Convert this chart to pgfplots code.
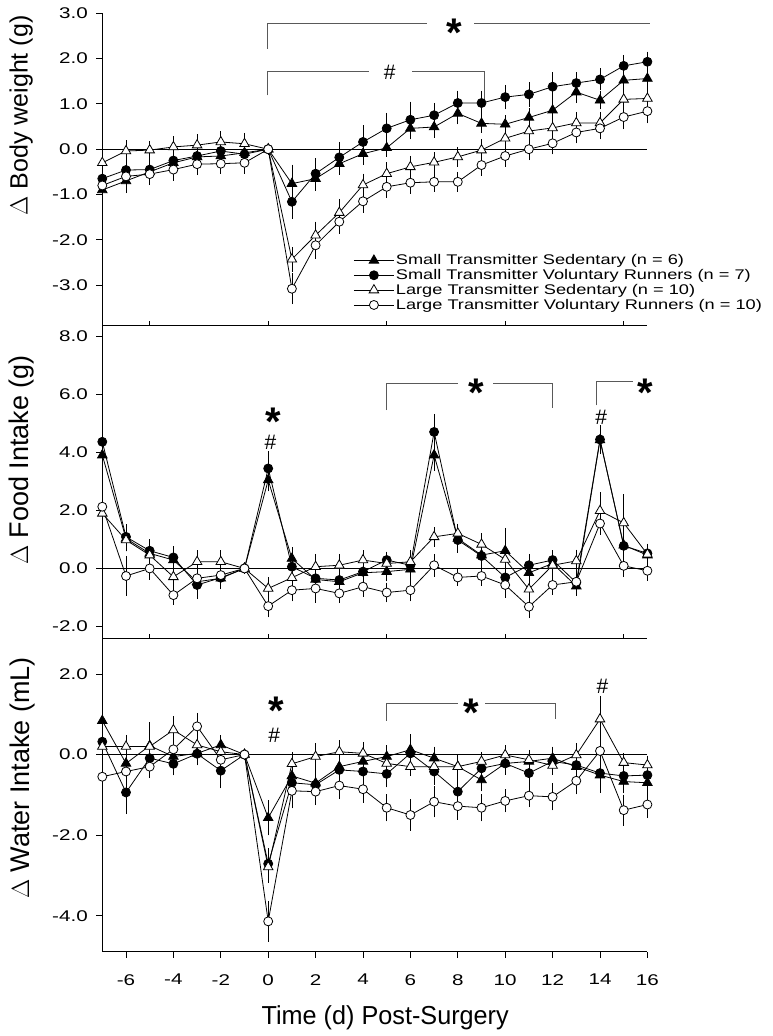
\documentclass[border=0pt]{standalone}
\usepackage{pgfplots}
\pgfplotsset{compat=1.18}
\usepackage{pgfplotstable}
\usepackage{fontspec}
\setmainfont{Liberation Sans}
\newfontfamily\tickfont[FakeStretch=1.33]{Liberation Sans}
\newfontfamily\legfont[FakeStretch=1.3]{Liberation Sans}
\newfontfamily\xlabfont[FakeStretch=0.97]{Liberation Sans}

\pgfplotstableread{
x st est sr esr lt elt lr elr
-7 -0.90 0.12 -0.65 0.15 -0.30 0.15 -0.80 0.12
-6 -0.70 0.15 -0.46 0.25 -0.04 0.12 -0.60 0.12
-5 -0.50 0.12 -0.45 0.12 -0.02 0.08 -0.55 0.12
-4 -0.30 0.12 -0.25 0.12 0.05 0.12 -0.45 0.12
-3 -0.17 0.12 -0.15 0.12 0.09 0.12 -0.33 0.12
-2 -0.15 0.12 -0.04 0.12 0.16 0.12 -0.32 0.10
-1 -0.08 0.12 -0.11 0.12 0.12 0.12 -0.30 0.12
0 0.00 0 0.00 0 0.00 0 0.00 0
1 -0.76 0.30 -1.16 0.25 -2.43 0.15 -3.08 0.22
2 -0.65 0.15 -0.54 0.22 -1.90 0.18 -2.12 0.18
3 -0.32 0.12 -0.18 0.22 -1.40 0.18 -1.60 0.15
4 -0.10 0.12 0.16 0.25 -0.79 0.13 -1.15 0.13
5 0.03 0.08 0.46 0.22 -0.54 0.13 -0.83 0.12
6 0.46 0.12 0.65 0.28 -0.39 0.12 -0.74 0.12
7 0.49 0.12 0.75 0.15 -0.29 0.10 -0.72 0.10
8 0.79 0.12 1.02 0.15 -0.17 0.10 -0.72 0.10
9 0.57 0.08 1.02 0.15 -0.02 0.12 -0.35 0.12
10 0.55 0.08 1.15 0.15 0.24 0.12 -0.15 0.12
11 0.70 0.08 1.21 0.15 0.40 0.12 0.00 0.12
12 0.86 0.08 1.38 0.20 0.47 0.12 0.13 0.12
13 1.26 0.12 1.46 0.12 0.58 0.12 0.37 0.12
14 1.08 0.08 1.54 0.12 0.58 0.12 0.46 0.12
15 1.52 0.15 1.84 0.12 1.10 0.12 0.71 0.15
16 1.56 0.15 1.93 0.10 1.12 0.12 0.84 0.15
}\bwtab

\pgfplotstableread{
x st est sr esr lt elt lr elr
-7 3.91 0.40 4.37 0.30 1.90 0.25 2.13 0.45
-6 1.03 0.25 1.09 0.25 0.98 0.20 -0.26 0.50
-5 0.52 0.20 0.61 0.20 0.46 0.20 0.00 0.20
-4 0.29 0.20 0.38 0.20 -0.29 0.25 -0.92 0.15
-3 -0.46 0.25 -0.57 0.30 0.23 0.20 -0.34 0.20
-2 -0.34 0.15 -0.32 0.20 0.23 0.20 -0.23 0.20
-1 0 0 0 0 0 0 0 0
0 3.05 0.20 3.45 0.40 -0.69 0.20 -1.30 0.20
1 0.34 0.20 0.06 0.20 -0.32 0.25 -0.75 0.20
2 -0.38 0.20 -0.34 0.20 0.06 0.25 -0.69 0.30
3 -0.46 0.15 -0.40 0.15 0.11 0.20 -0.86 0.15
4 -0.15 0.15 -0.11 0.15 0.29 0.15 -0.63 0.15
5 -0.11 0.15 0.29 0.10 0.17 0.15 -0.83 0.15
6 -0.03 0.15 0.11 0.15 0.23 0.20 -0.75 0.20
7 3.91 0.35 4.71 0.43 1.09 0.15 0.11 0.20
8 1.03 0.20 0.98 0.25 1.21 0.15 -0.31 0.10
9 0.46 0.20 0.43 0.20 0.83 0.20 -0.26 0.15
10 0.61 0.60 -0.31 0.25 0.31 0.25 -0.57 0.25
11 -0.15 0.20 0.11 0.20 -0.72 0.20 -1.32 0.20
12 0.17 0.15 0.29 0.15 0.11 0.15 -0.57 0.15
13 -0.61 0.15 -0.49 0.15 0.26 0.20 -0.46 0.15
14 4.43 0.30 4.45 0.30 1.99 0.45 1.55 0.20
15 0.80 0.40 0.78 0.40 1.57 0.80 0.09 0.20
16 0.46 0.15 0.52 0.15 0.49 0.15 -0.08 0.15
}\fitab

\pgfplotstableread{
x st est sr esr lt elt lr elr
-7 0.84 0.15 0.32 0.25 0.20 0.20 -0.55 0.50
-6 -0.22 0.20 -0.94 0.40 0.20 0.15 -0.42 0.20
-5 0.22 0.45 -0.09 0.20 0.20 0.15 -0.30 0.15
-4 -0.05 0.15 -0.23 0.15 0.61 0.20 0.13 0.20
-3 0.03 0.15 0.02 0.15 0.24 0.20 0.70 0.20
-2 0.24 0.10 -0.40 0.30 0.07 0.15 -0.13 0.15
-1 0 0 0 0 0 0 0 0
0 -1.57 0.30 -2.71 0.25 -2.79 0.25 -4.14 0.37
1 -0.53 0.30 -0.70 0.35 -0.23 0.15 -0.90 0.30
2 -0.71 0.20 -0.75 0.20 -0.05 0.20 -0.92 0.20
3 -0.30 0.20 -0.38 0.20 0.07 0.15 -0.77 0.20
4 -0.17 0.15 -0.42 0.20 0.03 0.15 -0.86 0.20
5 -0.05 0.15 -0.48 0.20 -0.22 0.10 -1.32 0.20
6 0.12 0.25 0.03 0.20 -0.30 0.10 -1.50 0.25
7 -0.09 0.15 -0.42 0.20 -0.30 0.10 -1.17 0.25
8 -0.30 0.15 -0.92 0.20 -0.30 0.10 -1.28 0.20
9 -0.63 0.15 -0.34 0.15 -0.17 0.10 -1.32 0.20
10 -0.22 0.15 -0.22 0.15 -0.01 0.10 -1.15 0.15
11 -0.17 0.15 -0.46 0.20 -0.13 0.10 -1.02 0.15
12 -0.09 0.15 -0.17 0.15 -0.27 0.10 -1.05 0.20
13 -0.30 0.15 -0.26 0.15 -0.01 0.15 -0.65 0.20
14 -0.51 0.30 -0.46 0.30 0.88 0.44 0.09 0.30
15 -0.67 0.15 -0.53 0.15 -0.20 0.10 -1.38 0.25
16 -0.70 0.15 -0.51 0.15 -0.26 0.10 -1.24 0.20
}\witab

\pgfplotsset{
  panel/.style={
    scale only axis, width=545.1pt, xmin=-7, xmax=16, clip=false,
    axis x line=bottom, axis y line=left,
    axis line style={-, line width=0.9pt},
    tick align=outside, major tick length=6pt,
    tick style={black, line width=0.9pt},
    tick label style={font=\tickfont\fontsize{15.5}{15.5}\selectfont},
    yticklabel style={xshift=-5pt},
    xticklabel style={yshift=-13pt},
  },
  ser/.style={black, line width=0.8pt,
    error bars/y dir=both, error bars/y explicit,
    error bars/error bar style={line width=0.8pt, black},
    error bars/error mark options={line width=0.8pt, black, mark size=5.5pt}},
  st/.style={mark=triangle*, mark size=5.5pt, mark options={solid, line width=0.8pt, draw=black, fill=black}},
  sr/.style={mark=*, mark size=4.5pt, mark options={solid, line width=0.8pt, draw=black, fill=black}},
  lt/.style={mark=triangle*, mark size=5.5pt, mark options={solid, line width=0.8pt, draw=black, fill=white}},
  lr/.style={mark=*, mark size=4.5pt, mark options={solid, line width=0.8pt, draw=black, fill=white}},
}
\tikzset{brk/.style={draw=black!65, line width=0.9pt}, sep/.style={black, line width=0.9pt}}
\newcommand{\astr}[1]{\node[anchor=base, inner sep=0pt, yshift=-22pt, font=\bfseries\fontsize{40}{40}\selectfont] at (#1) {*};}
\newcommand{\hsh}[1]{\node[anchor=base, inner sep=0pt, yshift=-7.3pt, font=\fontsize{21}{21}\selectfont] at (#1) {\#};}

\begin{document}
\begin{tikzpicture}[x=1pt,y=1pt]
\path (0,0) rectangle (772,1036);

% ---------- Panel 1: body weight
\begin{axis}[panel, at={(102.3pt,711pt)}, anchor=south west, height=311.7pt,
  ymin=-3.88, ymax=3.0, ytick={-3,-2,-1,0,1,2,3},
  yticklabels={-3.0,-2.0,-1.0,0.0,1.0,2.0,3.0},
  xtick=\empty,
  ylabel={$\Delta$ Body weight (g)},
  ylabel style={at={(axis description cs:-0.149,0.672)}, anchor=center, font=\fontsize{25}{25}\selectfont},
  legend style={at={(rel axis cs:0.455,0.238)}, anchor=north west, draw=none, fill=none,
    font=\legfont\fontsize{14}{15}\selectfont, nodes={inner sep=1.6pt}, row sep=0pt},
  legend cell align=left,
  legend image code/.code={\draw[mark repeat=2, mark phase=2, #1] plot coordinates {(0pt,0pt) (20pt,0pt) (40pt,0pt)};},
]
\addplot[black, line width=0.8pt, mark=none, forget plot] coordinates {(-7,0) (16,0)};
\addplot[st, ser] table[x=x, y=st, y error=est] {\bwtab};
\addlegendentry{Small Transmitter Sedentary (n = 6)}
\addplot[sr, ser] table[x=x, y=sr, y error=esr] {\bwtab};
\addlegendentry{Small Transmitter Voluntary Runners (n = 7)}
\addplot[lt, ser] table[x=x, y=lt, y error=elt] {\bwtab};
\addlegendentry{Large Transmitter Sedentary (n = 10)}
\addplot[lr, ser] table[x=x, y=lr, y error=elr] {\bwtab};
\addlegendentry{Large Transmitter Voluntary Runners (n = 10)}
\draw[brk] (axis cs:-0.05,2.22) -- (axis cs:-0.05,2.77) -- (axis cs:6.7,2.77);
\draw[brk] (axis cs:8.7,2.77) -- (axis cs:16.1,2.77);
\astr{axis cs:7.85,2.75}
\draw[brk] (axis cs:-0.05,1.19) -- (axis cs:-0.05,1.71) -- (axis cs:4.24,1.71);
\draw[brk] (axis cs:6.08,1.71) -- (axis cs:9.12,1.71) -- (axis cs:9.12,1.08);
\hsh{axis cs:5.13,1.71}
\draw[sep] (axis cs:-5,-3.88) -- ++(0pt,4pt);
\draw[sep] (axis cs:0,-3.88) -- ++(0pt,4pt);
\draw[sep] (axis cs:5,-3.88) -- ++(0pt,4pt);
\draw[sep] (axis cs:10,-3.88) -- ++(0pt,4pt);
\draw[sep] (axis cs:15,-3.88) -- ++(0pt,4pt);
\end{axis}

% ---------- Panel 2: food intake
\begin{axis}[panel, at={(102.3pt,397.7pt)}, anchor=south west, height=313.3pt,
  ymin=-2.41, ymax=8.40, ytick={-2,0,2,4,6,8},
  yticklabels={-2.0,0.0,2.0,4.0,6.0,8.0},
  xtick=\empty,
  ylabel={$\Delta$ Food Intake (g)},
  ylabel style={at={(axis description cs:-0.149,0.569)}, anchor=center, font=\fontsize{27}{27}\selectfont},
]
\addplot[black, line width=0.8pt, mark=none] coordinates {(-7,0) (16,0)};
\addplot[st, ser] table[x=x, y=st, y error=est] {\fitab};
\addplot[sr, ser] table[x=x, y=sr, y error=esr] {\fitab};
\addplot[lt, ser] table[x=x, y=lt, y error=elt] {\fitab};
\addplot[lr, ser] table[x=x, y=lr, y error=elr] {\fitab};
\draw[brk] (axis cs:5,5.46) -- (axis cs:5,6.4) -- (axis cs:8,6.4);
\draw[brk] (axis cs:9.5,6.4) -- (axis cs:12,6.4) -- (axis cs:12,5.52);
\astr{axis cs:8.77,6.35}
\draw[brk] (axis cs:13.86,5.63) -- (axis cs:13.86,6.46) -- (axis cs:15.4,6.46);
\astr{axis cs:15.9,6.35}
\astr{axis cs:0.2,5.35}
\hsh{axis cs:0.1,4.35}
\hsh{axis cs:14.05,5.23}
\draw[sep] (axis cs:-5,-2.41) -- ++(0pt,4pt);
\draw[sep] (axis cs:0,-2.41) -- ++(0pt,4pt);
\draw[sep] (axis cs:5,-2.41) -- ++(0pt,4pt);
\draw[sep] (axis cs:10,-2.41) -- ++(0pt,4pt);
\draw[sep] (axis cs:15,-2.41) -- ++(0pt,4pt);
\end{axis}

% ---------- Panel 3: water intake
\begin{axis}[panel, at={(102.3pt,84.3pt)}, anchor=south west, height=313.4pt,
  ymin=-4.893, ymax=2.886, ytick={-4,-2,0,2},
  yticklabels={-4.0,-2.0,0.0,2.0},
  xtick={-6,-4,-2,0,2,4,6,8,10,12,14,16},
  xticklabels={-6,-4,-2,0,2,4,6,8,10,12,14,16},
  ylabel={$\Delta$ Water Intake (mL)},
  ylabel style={at={(axis description cs:-0.147,0.554)}, anchor=center, font=\fontsize{27}{27}\selectfont},
  xlabel={Time (d) Post-Surgery},
  xlabel style={at={(axis description cs:0.519,-0.21)}, anchor=center, font=\xlabfont\fontsize{26}{26}\selectfont},
]
\addplot[black, line width=0.8pt, mark=none] coordinates {(-7,0) (16,0)};
\addplot[st, ser] table[x=x, y=st, y error=est] {\witab};
\addplot[sr, ser] table[x=x, y=sr, y error=esr] {\witab};
\addplot[lt, ser] table[x=x, y=lt, y error=elt] {\witab};
\addplot[lr, ser] table[x=x, y=lr, y error=elr] {\witab};
\draw[brk] (axis cs:5,0.84) -- (axis cs:5,1.26) -- (axis cs:8,1.26);
\draw[brk] (axis cs:9.16,1.26) -- (axis cs:12.1,1.26) -- (axis cs:12.1,0.88);
\astr{axis cs:8.58,1.25}
\astr{axis cs:0.35,1.3}
\hsh{axis cs:0.25,0.47}
\hsh{axis cs:14.1,1.69}
\end{axis}
\end{tikzpicture}
\end{document}
